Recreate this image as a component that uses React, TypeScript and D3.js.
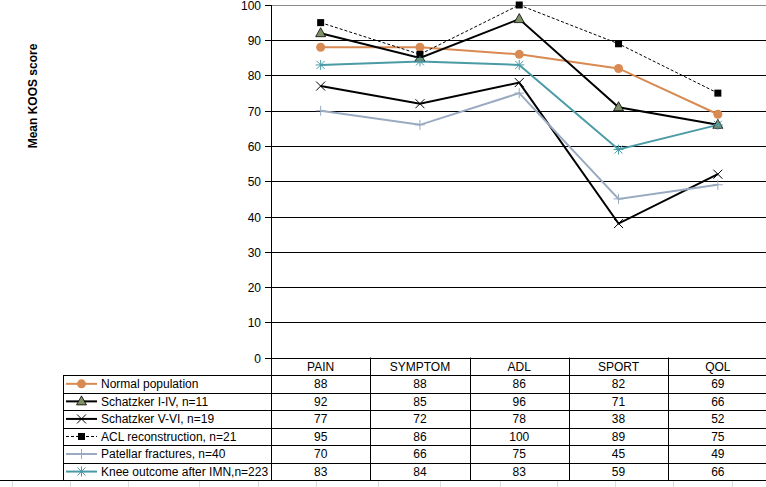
import React from "react";
import * as d3 from "d3";

const categories = ["PAIN", "SYMPTOM", "ADL", "SPORT", "QOL"];
const seriesNames = [
  "Normal population",
  "Schatzker I-IV, n=11",
  "Schatzker V-VI, n=19",
  "ACL reconstruction, n=21",
  "Patellar fractures, n=40",
  "Knee outcome after IMN,n=223",
];
const normalPop = [88, 88, 86, 82, 69];
const schatzker14 = [92, 85, 96, 71, 66];
const schatzker56 = [77, 72, 78, 38, 52];
const aclRecon = [95, 86, 100, 89, 75];
const patellar = [70, 66, 75, 45, 49];
const kneeImn = [83, 84, 83, 59, 66];
const yTicks = [0, 10, 20, 30, 40, 50, 60, 70, 80, 90, 100];
const sheetGridX = [12, 70, 128, 199, 258, 316, 378, 440, 500, 557, 615, 673, 732];

const W = 766;
const H = 487;
const FONT = "'Liberation Sans', Arial, sans-serif";

type Style = {
  color: string;
  width: number;
  dash?: string;
  marker: "circle" | "triangle" | "x" | "square" | "plus" | "star";
  markerFill?: string;
};

const styles: Style[] = [
  { color: "#D98A52", width: 2, marker: "circle", markerFill: "#D98A52" },
  { color: "#000000", width: 2, marker: "triangle", markerFill: "#7E9166" },
  { color: "#000000", width: 2, marker: "x" },
  { color: "#000000", width: 1, dash: "3,2", marker: "square", markerFill: "#000000" },
  { color: "#9AAAC0", width: 2, marker: "plus" },
  { color: "#4A9BA6", width: 2, marker: "star" },
];

const allSeries = [normalPop, schatzker14, schatzker56, aclRecon, patellar, kneeImn];

function Marker({ s, x, y }: { s: Style; x: number; y: number }) {
  switch (s.marker) {
    case "circle":
      return <circle cx={x} cy={y} r={4.5} fill={s.markerFill} />;
    case "triangle":
      return (
        <path
          d={`M${x},${y - 5.5}L${x + 5},${y + 3.5}L${x - 5},${y + 3.5}Z`}
          fill={s.markerFill}
          stroke="#000"
          strokeWidth={0.8}
        />
      );
    case "x":
      return (
        <path
          d={`M${x - 4.5},${y - 4.5}L${x + 4.5},${y + 4.5}M${x - 4.5},${y + 4.5}L${x + 4.5},${y - 4.5}`}
          stroke="#000"
          strokeWidth={1}
        />
      );
    case "square":
      return <rect x={x - 3.5} y={y - 3.5} width={7} height={7} fill="#000" />;
    case "plus":
      return (
        <path
          d={`M${x - 5},${y}L${x + 5},${y}M${x},${y - 5}L${x},${y + 5}`}
          stroke={s.color}
          strokeWidth={1}
        />
      );
    case "star":
      return (
        <path
          d={`M${x - 5},${y}L${x + 5},${y}M${x - 4},${y - 4}L${x + 4},${y + 4}M${x - 4},${y + 4}L${x + 4},${y - 4}M${x},${y - 5}L${x},${y + 5}`}
          stroke={s.color}
          strokeWidth={1}
        />
      );
  }
  return null;
}

export default function App() {
  const left = 271;
  const right = 767.5;
  const top = 5;
  const bottom = 357.5;
  const x = d3.scaleBand<string>().domain(categories).range([left, right]);
  const y = d3.scaleLinear().domain([0, 100]).range([bottom, top]);
  const cx = (c: string) => (x(c) as number) + x.bandwidth() / 2;
  const line = d3
    .line<number>()
    .x((_, i) => cx(categories[i]))
    .y((v) => y(v));

  const rowH = 17.55;
  const tableTop = bottom;
  const rowsY = d3.range(8).map((i) => tableTop + i * rowH);
  const legendLeft = 63;

  return (
    <svg
      width={W}
      height={H}
      style={{ position: "absolute", left: 0, top: 0, background: "#fff" }}
      fontFamily={FONT}
    >
      <rect width={W} height={H} fill="#fff" />
      {/* sheet gridlines below */}
      {sheetGridX.map((gx) => (
        <line key={gx} x1={gx + 0.5} x2={gx + 0.5} y1={rowsY[7]} y2={H} stroke="#DDDDDD" strokeWidth={1} />
      ))}
      {/* y-axis title */}
      <text
        transform={`translate(37,96) rotate(-90)`}
        textAnchor="middle"
        fontSize={12}
        fontWeight="bold"
        fill="#000"
      >
        Mean KOOS score
      </text>
      {/* gridlines and ticks */}
      {yTicks.map((t) => {
        const yy = Math.round(y(t)) + 0.5;
        return (
          <g key={t}>
            <line
              x1={left - 6}
              x2={W}
              y1={yy}
              y2={yy}
              stroke={t === 100 ? "#8C8C8C" : "#000"}
              strokeWidth={1}
            />
            <line x1={left - 6} x2={left} y1={yy} y2={yy} stroke="#000" />
            <text x={left - 10} y={yy + 4} textAnchor="end" fontSize={12} fill="#000">
              {t}
            </text>
          </g>
        );
      })}
      {/* y axis */}
      <line x1={left + 0.5} x2={left + 0.5} y1={y(100)} y2={rowsY[7]} stroke="#000" />
      {/* series lines */}
      {allSeries.map((vals, si) => (
        <path
          key={si}
          d={line(vals) || ""}
          fill="none"
          stroke={styles[si].color}
          strokeWidth={styles[si].width}
          strokeDasharray={styles[si].dash}
          strokeLinejoin="miter"
        />
      ))}
      {allSeries.map((vals, si) =>
        vals.map((v, i) => <Marker key={`${si}-${i}`} s={styles[si]} x={cx(categories[i])} y={y(v)} />)
      )}
      {/* data table */}
      {rowsY.slice(1).map((ry, i) => (
        <line
          key={i}
          x1={i === 6 ? 0 : legendLeft}
          x2={W}
          y1={Math.round(ry) + 0.5}
          y2={Math.round(ry) + 0.5}
          stroke="#000"
        />
      ))}
      <line
        x1={legendLeft + 0.5}
        x2={legendLeft + 0.5}
        y1={Math.round(rowsY[1]) + 0.5}
        y2={Math.round(rowsY[7]) + 0.5}
        stroke="#000"
      />
      {categories.slice(1).map((c) => {
        const bx = Math.round(x(c) as number) + 0.5;
        return <line key={c} x1={bx} x2={bx} y1={rowsY[0]} y2={Math.round(rowsY[7]) + 0.5} stroke="#000" />;
      })}
      {categories.map((c) => (
        <text key={c} x={cx(c)} y={rowsY[0] + 13} textAnchor="middle" fontSize={12} fill="#000">
          {c}
        </text>
      ))}
      {allSeries.map((vals, si) => {
        const ry = rowsY[si + 1];
        const s = styles[si];
        const my = ry + rowH / 2;
        return (
          <g key={si}>
            <line
              x1={legendLeft + 3}
              x2={legendLeft + 34}
              y1={my}
              y2={my}
              stroke={s.color}
              strokeWidth={s.width}
              strokeDasharray={s.dash}
            />
            <Marker s={s} x={legendLeft + 18.5} y={my} />
            <text x={legendLeft + 38} y={ry + 13} fontSize={12} fill="#000">
              {seriesNames[si]}
            </text>
            {vals.map((v, i) => (
              <text key={i} x={cx(categories[i])} y={ry + 13} textAnchor="middle" fontSize={12} fill="#000">
                {v}
              </text>
            ))}
          </g>
        );
      })}
    </svg>
  );
}
